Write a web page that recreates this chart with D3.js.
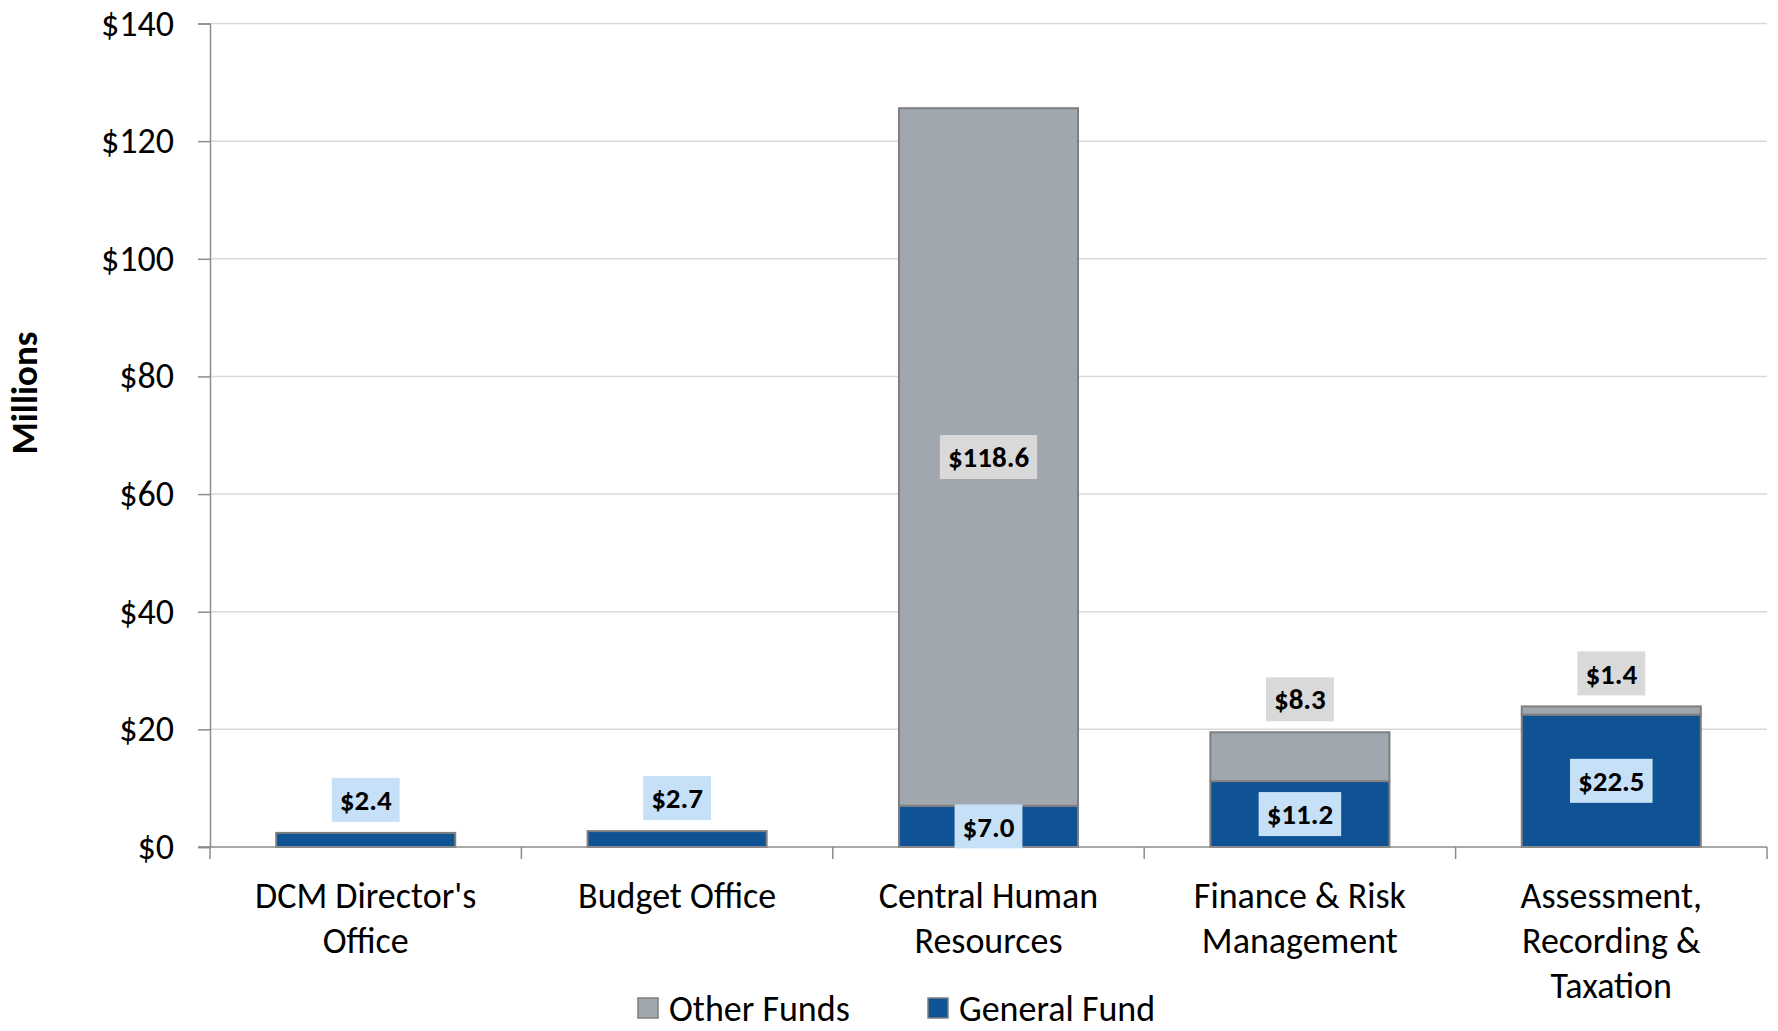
<!DOCTYPE html>
<html>
<head>
<meta charset="utf-8">
<script src="https://cdn.jsdelivr.net/npm/d3@7/dist/d3.min.js"></script>
<style>
  html, body { margin: 0; padding: 0; background: #ffffff; }
  svg { display: block; font-family: Carlito, Calibri, Lato, "Open Sans", sans-serif; }
</style>
</head>
<body>
<svg id="chart" width="1778" height="1031"></svg>
<script>
// Division budget by fund, in millions of dollars
const categories = [
  "DCM Director's Office",
  "Budget Office",
  "Central Human Resources",
  "Finance & Risk Management",
  "Assessment, Recording & Taxation"
];
const categoryLines = [
  ["DCM Director's", "Office"],
  ["Budget Office"],
  ["Central Human", "Resources"],
  ["Finance & Risk", "Management"],
  ["Assessment,", "Recording &", "Taxation"]
];
const generalFund = [2.4, 2.7, 7.0, 11.2, 22.5];
const otherFunds = [0, 0, 118.6, 8.3, 1.4];
const yTicks = [0, 20, 40, 60, 80, 100, 120, 140];
const seriesNames = ["General Fund", "Other Funds"];
const legendOrder = ["Other Funds", "General Fund"];

const colors = {
  "General Fund": "#0f5394",
  "Other Funds": "#a0a7ae"
};
const labelFill = {
  "General Fund": "#c6e1f7",
  "Other Funds": "#d9d9d9"
};
// minimum segment height (px) for a value label to sit inside its segment
const insideMin = {
  "General Fund": 35,
  "Other Funds": 80
};

const svg = d3.select("#chart");
const plot = { left: 210, right: 1767, top: 23.5, bottom: 847 };

const x = d3.scaleBand()
  .domain(categories)
  .range([plot.left, plot.right])
  .paddingInner(0.425)
  .paddingOuter(0.2125);

const y = d3.scaleLinear()
  .domain([0, 140])
  .range([plot.bottom, plot.top]);

const step = x.step();
const edge = x(categories[0]) - x.paddingOuter() * step; // left edge of first category

// gridlines
svg.append("g")
  .selectAll("line")
  .data(yTicks.filter(t => t > 0))
  .join("line")
  .attr("x1", plot.left)
  .attr("x2", plot.right)
  .attr("y1", d => y(d))
  .attr("y2", d => y(d))
  .attr("stroke", "#d9d9d9")
  .attr("stroke-width", 1.5);

// y axis
const yAxis = svg.append("g")
  .attr("transform", `translate(${plot.left},0)`)
  .call(d3.axisLeft(y).tickValues(yTicks).tickSize(12).tickPadding(24).tickFormat(d => "$" + d));
yAxis.select(".domain").attr("stroke", "#8c8c8c").attr("stroke-width", 1.5);
yAxis.selectAll(".tick line").attr("stroke", "#8c8c8c").attr("stroke-width", 1.5);
yAxis.selectAll(".tick text")
  .attr("font-size", 36)
  .attr("fill", "#000")
  .attr("font-family", "Carlito, Calibri, Lato, sans-serif");

// stacked data
const rows = categories.map((c, i) => ({
  category: c,
  "General Fund": generalFund[i],
  "Other Funds": otherFunds[i]
}));
const stack = d3.stack().keys(seriesNames)(rows);

const barW = x.bandwidth();
svg.append("g")
  .selectAll("g")
  .data(stack)
  .join("g")
  .attr("fill", d => colors[d.key])
  .selectAll("rect")
  .data(d => d.filter(s => s[1] - s[0] > 0))
  .join("rect")
  .attr("x", d => x(d.data.category))
  .attr("width", barW)
  .attr("y", d => y(d[1]))
  .attr("height", d => y(d[0]) - y(d[1]))
  .attr("stroke", "#7f7f7f")
  .attr("stroke-width", 2);

// x axis line and category separators
const xAxisG = svg.append("g");
xAxisG.append("line")
  .attr("x1", plot.left - 12).attr("x2", plot.right)
  .attr("y1", plot.bottom).attr("y2", plot.bottom)
  .attr("stroke", "#8c8c8c").attr("stroke-width", 1.5);
xAxisG.selectAll("line.sep")
  .data(d3.range(categories.length + 1))
  .join("line")
  .attr("class", "sep")
  .attr("x1", i => edge + i * step)
  .attr("x2", i => edge + i * step)
  .attr("y1", plot.bottom)
  .attr("y2", plot.bottom + 12)
  .attr("stroke", "#8c8c8c").attr("stroke-width", 1.5);

// category labels
const catLabels = svg.append("g")
  .selectAll("text")
  .data(categories)
  .join("text")
  .attr("x", d => x(d) + barW / 2)
  .attr("y", 908)
  .attr("text-anchor", "middle")
  .attr("font-size", 36)
  .attr("fill", "#000");
catLabels.selectAll("tspan")
  .data((d, i) => categoryLines[i])
  .join("tspan")
  .attr("x", function () { return d3.select(this.parentNode).attr("x"); })
  .attr("dy", (d, j) => j === 0 ? 0 : 45)
  .text(d => d);

// data labels
const labelG = svg.append("g");
stack.forEach(series => {
  series.forEach(seg => {
    const v = seg[1] - seg[0];
    if (v <= 0) return;
    const cx = x(seg.data.category) + barW / 2;
    const segH = y(seg[0]) - y(seg[1]);
    const boxH = 44;
    // labels that don't fit inside their segment sit above the stack top
    const cy = segH >= insideMin[series.key] ? (y(seg[0]) + y(seg[1])) / 2 : y(seg[1]) - 33;
    const g = labelG.append("g");
    const t = g.append("text")
      .attr("x", cx)
      .attr("y", cy)
      .attr("dy", "0.35em")
      .attr("text-anchor", "middle")
      .attr("font-size", 29)
      .attr("font-weight", "bold")
      .attr("fill", "#000")
      .text("$" + d3.format(".1f")(v));
    const w = t.node().getComputedTextLength() + 16;
    g.insert("rect", "text")
      .attr("x", cx - w / 2)
      .attr("y", cy - boxH / 2)
      .attr("width", w)
      .attr("height", boxH)
      .attr("fill", labelFill[series.key]);
  });
});

// y axis title
svg.append("text")
  .attr("transform", "translate(37,393) rotate(-90)")
  .attr("text-anchor", "middle")
  .attr("font-size", 37)
  .attr("font-weight", "bold")
  .attr("fill", "#000")
  .text("Millions");

// legend
const legendX = { "Other Funds": 638, "General Fund": 928 };
const legend = svg.append("g")
  .selectAll("g")
  .data(legendOrder)
  .join("g")
  .attr("transform", d => `translate(${legendX[d]},1008)`);
legend.append("rect")
  .attr("x", 0).attr("y", -10)
  .attr("width", 20).attr("height", 20)
  .attr("fill", d => colors[d])
  .attr("stroke", "#7f7f7f").attr("stroke-width", 1.5);
legend.append("text")
  .attr("x", 31)
  .attr("y", 0)
  .attr("dy", "0.35em")
  .attr("font-size", 36)
  .attr("fill", "#000")
  .text(d => d);
</script>
</body>
</html>
